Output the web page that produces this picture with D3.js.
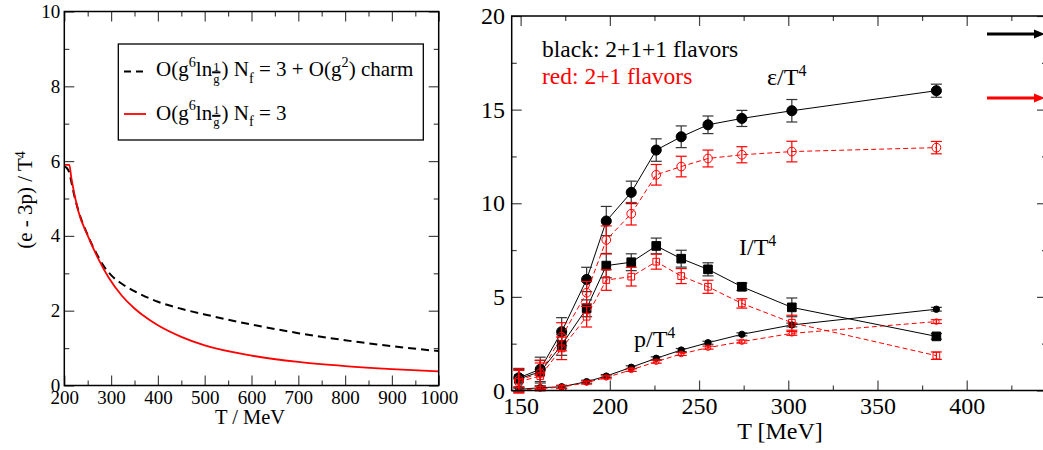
<!DOCTYPE html>
<html>
<head>
<meta charset="utf-8">
<script src="https://cdn.jsdelivr.net/npm/d3@7"></script>
<style>
  html, body { margin: 0; padding: 0; background: #fff; }
  svg { display: block; }
  text { font-family: 'Liberation Serif', 'DejaVu Serif', serif; white-space: pre; }
</style>
</head>
<body>
<svg id="chart"></svg>
<script>
// left panel: (e - 3p)/T^4 curves
var tCharm = [200, 205, 210, 215, 220, 230, 250, 270, 285, 300, 323, 350, 400, 450, 500, 600, 700, 800, 900, 1000];
var vCharm = [5.85, 5.82, 5.72, 5.45, 5.15, 4.68, 4.02, 3.50, 3.18, 2.95, 2.72, 2.52, 2.24, 2.05, 1.90, 1.63, 1.40, 1.21, 1.05, 0.92];
var tNf3 = [200, 210.7, 215, 230, 251, 273, 295, 323, 350, 380, 400, 450, 500, 600, 700, 800, 900, 1000];
var vNf3 = [5.90, 5.90, 5.55, 4.66, 3.98, 3.38, 2.88, 2.40, 2.06, 1.77, 1.61, 1.30, 1.07, 0.80, 0.63, 0.52, 0.44, 0.38];
var leftXTicks = [200, 300, 400, 500, 600, 700, 800, 900, 1000];
var leftYTicks = [0, 2, 4, 6, 8, 10];

// right panel: lattice data
var temps = [149, 161, 173, 187, 198, 212, 226, 240, 255, 274, 302, 383];
var eps211 = [0.68, 1.13, 3.14, 5.93, 9.05, 10.58, 12.84, 13.55, 14.19, 14.53, 14.94, 16.01];
var eps211Err = [0.5, 0.65, 0.75, 0.65, 0.78, 0.6, 0.6, 0.58, 0.47, 0.43, 0.6, 0.35];
var eps21 = [0.56, 0.92, 2.87, 5.22, 8.04, 9.44, 11.52, 11.96, 12.39, 12.59, 12.76, 12.97];
var eps21Err = [0.6, 0.7, 0.75, 0.6, 0.75, 0.6, 0.55, 0.55, 0.45, 0.43, 0.55, 0.33];
var int211 = [0.62, 1.0, 2.43, 4.39, 6.67, 6.85, 7.72, 7.04, 6.47, 5.54, 4.44, 2.89];
var int211Err = [0.5, 0.6, 0.55, 0.45, 0.65, 0.45, 0.42, 0.45, 0.35, 0.2, 0.5, 0.15];
var int21 = [0.47, 0.77, 2.25, 3.94, 5.9, 6.08, 6.88, 6.11, 5.54, 4.65, 3.62, 1.86];
var int21Err = [0.6, 0.7, 0.6, 0.55, 0.55, 0.5, 0.4, 0.4, 0.35, 0.25, 0.4, 0.2];
var p211 = [0.06, 0.15, 0.2, 0.47, 0.77, 1.24, 1.72, 2.16, 2.55, 3.0, 3.5, 4.34];
var p211Err = [0.12, 0.1, 0.08, 0.08, 0.08, 0.08, 0.08, 0.08, 0.08, 0.08, 0.1, 0.1];
var p21 = [0.03, 0.1, 0.18, 0.42, 0.7, 1.1, 1.54, 1.95, 2.29, 2.61, 3.05, 3.68];
var p21Err = [0.15, 0.12, 0.08, 0.08, 0.08, 0.08, 0.08, 0.08, 0.08, 0.08, 0.1, 0.1];
var rightXTicks = [150, 200, 250, 300, 350, 400];
var rightYTicks = [0, 5, 10, 15, 20];

var W = 1043, H = 450;
var RED = '#ff0000';
var SERIF = "'Liberation Serif', 'DejaVu Serif', serif";
var svg = d3.select('#chart').attr('width', W).attr('height', H).attr('font-family', SERIF);

function drawAxes(x, y, o) {
  var g = svg.append('g');
  var xr = x.range(), yr = y.range();

  g.append('g').attr('transform', 'translate(0,' + yr[0] + ')')
    .call(d3.axisBottom(x).tickValues(o.xMajor).tickSize(-10).tickPadding(o.xPad).tickFormat(d3.format('d')));
  g.append('g').attr('transform', 'translate(0,' + yr[0] + ')')
    .call(d3.axisBottom(x).tickValues(o.xMinor).tickSize(-5).tickFormat(''));
  g.append('g').attr('transform', 'translate(0,' + yr[1] + ')')
    .call(d3.axisTop(x).tickValues(o.xMajor).tickSize(-10).tickFormat(''));
  g.append('g').attr('transform', 'translate(0,' + yr[1] + ')')
    .call(d3.axisTop(x).tickValues(o.xMinor).tickSize(-5).tickFormat(''));

  g.append('g').attr('transform', 'translate(' + xr[0] + ',0)')
    .call(d3.axisLeft(y).tickValues(o.yMajor).tickSize(-10).tickPadding(o.yPad).tickFormat(d3.format('d')));
  g.append('g').attr('transform', 'translate(' + xr[0] + ',0)')
    .call(d3.axisLeft(y).tickValues(o.yMinor).tickSize(-5).tickFormat(''));
  g.append('g').attr('transform', 'translate(' + xr[1] + ',0)')
    .call(d3.axisRight(y).tickValues(o.yMajor).tickSize(-10).tickFormat(''));
  g.append('g').attr('transform', 'translate(' + xr[1] + ',0)')
    .call(d3.axisRight(y).tickValues(o.yMinor).tickSize(-5).tickFormat(''));

  g.selectAll('.domain').remove();
  g.selectAll('g').attr('font-family', SERIF).attr('font-size', o.fontSize);
  g.selectAll('.tick line').attr('stroke', '#444').attr('stroke-width', 1.2);
  g.selectAll('.tick text').attr('fill', '#000');

  svg.append('rect')
    .attr('x', xr[0]).attr('y', yr[1])
    .attr('width', xr[1] - xr[0]).attr('height', yr[0] - yr[1])
    .attr('fill', 'none').attr('stroke', '#000').attr('stroke-width', 1.5);
}

// text built from pieces: normal, sup, sub and a small 1/g fraction
function richText(g, x, y, parts, size, color) {
  var cx = x;
  parts.forEach(function (p) {
    if (p.num) {
      var fs = size * 0.6;
      var a = g.append('text').attr('y', y - 5.5).style('font-size', fs + 'px').attr('fill', color).text(p.num);
      var b = g.append('text').attr('y', y + 6.5).style('font-size', fs + 'px').attr('fill', color).text(p.den);
      var w = Math.max(a.node().getComputedTextLength(), b.node().getComputedTextLength()) + 2;
      a.attr('x', cx + w / 2).attr('text-anchor', 'middle');
      b.attr('x', cx + w / 2).attr('text-anchor', 'middle');
      g.append('line').attr('x1', cx).attr('x2', cx + w).attr('y1', y - 3.7).attr('y2', y - 3.7)
        .attr('stroke', color).attr('stroke-width', 2);
      cx += w + 1;
    } else {
      var small = p.sup || p.sub;
      var dy = p.sup ? -size * 0.45 : (p.sub ? size * 0.33 : 0);
      var t = g.append('text').attr('x', cx).attr('y', y + dy)
        .style('font-size', (small ? size * 0.68 : size) + 'px').attr('fill', color).text(p.t);
      cx += t.node().getComputedTextLength();
    }
  });
  return cx;
}

// ---------- left panel ----------
var xL = d3.scaleLinear().domain([200, 1000]).range([64.3, 438.7]);
var yL = d3.scaleLinear().domain([0, 10]).range([385.5, 11.5]);

var lineL = d3.line().x(function (d) { return xL(d[0]); }).y(function (d) { return yL(d[1]); })
  .curve(d3.curveMonotoneX);

svg.append('path').datum(d3.zip(tCharm, vCharm)).attr('d', lineL)
  .attr('fill', 'none').attr('stroke', '#000').attr('stroke-width', 2).attr('stroke-dasharray', '8,5');
svg.append('path').datum(d3.zip(tNf3, vNf3)).attr('d', lineL)
  .attr('fill', 'none').attr('stroke', RED).attr('stroke-width', 1.8);

drawAxes(xL, yL, {
  xMajor: leftXTicks, xMinor: d3.range(250, 1000, 100),
  yMajor: leftYTicks, yMinor: d3.range(1, 10, 2),
  xPad: 5, yPad: 4, fontSize: 19
});

// legend box
var leg = svg.append('g');
leg.append('rect').attr('x', 118.3).attr('y', 44).attr('width', 305).attr('height', 96)
  .attr('fill', '#fff').attr('stroke', '#000').attr('stroke-width', 1.3);
leg.append('line').attr('x1', 124).attr('x2', 146).attr('y1', 71.5).attr('y2', 71.5)
  .attr('stroke', '#000').attr('stroke-width', 2).attr('stroke-dasharray', '7,5');
leg.append('line').attr('x1', 124).attr('x2', 146).attr('y1', 114).attr('y2', 114)
  .attr('stroke', RED).attr('stroke-width', 1.8);
var legParts1 = [{t: 'O(g'}, {t: '6', sup: true}, {t: 'ln'}, {num: '1', den: 'g'}, {t: ') N'}, {t: 'f', sub: true},
  {t: ' = 3 + O(g'}, {t: '2', sup: true}, {t: ') charm'}];
var legParts2 = [{t: 'O(g'}, {t: '6', sup: true}, {t: 'ln'}, {num: '1', den: 'g'}, {t: ') N'}, {t: 'f', sub: true},
  {t: ' = 3'}];
richText(leg, 156, 76, legParts1, 21, '#000');
richText(leg, 156, 119.5, legParts2, 21, '#000');

svg.append('text').attr('x', 250).attr('y', 424).attr('text-anchor', 'middle')
  .style('font-size', '20.5px').text('T / MeV');
var yLab = svg.append('text').attr('transform', 'translate(32,200) rotate(-90)')
  .attr('text-anchor', 'middle').style('font-size', '21px');
yLab.append('tspan').text('(e - 3p) / T');
yLab.append('tspan').attr('dy', '-0.5em').style('font-size', '14px').text('4');

// ---------- right panel ----------
var xR = d3.scaleLinear().domain([145, 445]).range([511.7, 1047]);
var yR = d3.scaleLinear().domain([0, 20]).range([390.5, 16]);

var lineR = d3.line().x(function (d) { return xR(d[0]); }).y(function (d) { return yR(d[1]); });

function series(vals, errs, color, dashed, marker) {
  var pts = temps.map(function (t, i) { return {t: t, v: vals[i], e: errs[i]}; });
  var g = svg.append('g');
  g.append('path').datum(pts.map(function (d) { return [d.t, d.v]; })).attr('d', lineR)
    .attr('fill', 'none').attr('stroke', color).attr('stroke-width', 1)
    .attr('stroke-dasharray', dashed ? '5,3' : null);
  var ecol = color === '#000' ? '#333' : color;
  var eb = g.selectAll('g.err').data(pts).enter().append('g').attr('class', 'err')
    .attr('stroke', ecol).attr('stroke-width', 1.2);
  eb.append('line').attr('x1', function (d) { return xR(d.t); }).attr('x2', function (d) { return xR(d.t); })
    .attr('y1', function (d) { return yR(d.v - d.e); }).attr('y2', function (d) { return yR(d.v + d.e); });
  [-1, 1].forEach(function (s) {
    eb.append('line').attr('x1', function (d) { return xR(d.t) - 5.5; }).attr('x2', function (d) { return xR(d.t) + 5.5; })
      .attr('y1', function (d) { return yR(d.v + s * d.e); }).attr('y2', function (d) { return yR(d.v + s * d.e); });
  });
  var filled = color === '#000';
  g.selectAll('path.mk').data(pts).enter().append('path').attr('class', 'mk')
    .attr('transform', function (d) { return 'translate(' + xR(d.t) + ',' + yR(d.v) + ')'; })
    .attr('d', d3.symbol().type(marker.type).size(marker.size))
    .attr('fill', filled ? '#000' : 'none')
    .attr('stroke', color).attr('stroke-width', 1);
}

series(eps211, eps211Err, '#000', false, {type: d3.symbolCircle, size: 80});
series(int211, int211Err, '#000', false, {type: d3.symbolSquare, size: 75});
series(p211, p211Err, '#000', false, {type: d3.symbolCircle, size: 32});
series(eps21, eps21Err, RED, true, {type: d3.symbolCircle, size: 60});
series(int21, int21Err, RED, true, {type: d3.symbolSquare, size: 45});
series(p21, p21Err, RED, true, {type: d3.symbolCircle, size: 24});

drawAxes(xR, yR, {
  xMajor: rightXTicks, xMinor: d3.range(175, 445, 50),
  yMajor: rightYTicks, yMinor: d3.range(2.5, 20, 5),
  xPad: 6, yPad: 6.7, fontSize: 24
});

svg.append('text').attr('x', 542).attr('y', 56.7).style('font-size', '23.5px').attr('fill', '#000')
  .text('black: 2+1+1 flavors');
svg.append('text').attr('x', 542).attr('y', 84).style('font-size', '23.5px').attr('fill', RED)
  .text('red: 2+1 flavors');

var labels = [
  {x: 767, y: 85, s: 'ε/T'},
  {x: 739, y: 255, s: 'I/T'},
  {x: 634, y: 347, s: 'p/T'}
];
labels.forEach(function (l) {
  var t = svg.append('text').attr('x', l.x).attr('y', l.y).style('font-size', '24px');
  t.append('tspan').text(l.s);
  t.append('tspan').attr('dy', '-0.55em').style('font-size', '16px').text('4');
});

svg.append('text').attr('x', 780).attr('y', 439).attr('text-anchor', 'middle')
  .style('font-size', '24px').text('T [MeV]');

// arrows leaving the frame on the right
[{y: 34, c: '#000'}, {y: 98, c: RED}].forEach(function (a) {
  svg.append('line').attr('x1', 987).attr('x2', 1036).attr('y1', a.y).attr('y2', a.y)
    .attr('stroke', a.c).attr('stroke-width', 3);
  svg.append('path').attr('d', 'M1034,' + (a.y - 4.5) + 'L1045,' + a.y + 'L1034,' + (a.y + 4.5) + 'Z')
    .attr('fill', a.c);
});
</script>
</body>
</html>
